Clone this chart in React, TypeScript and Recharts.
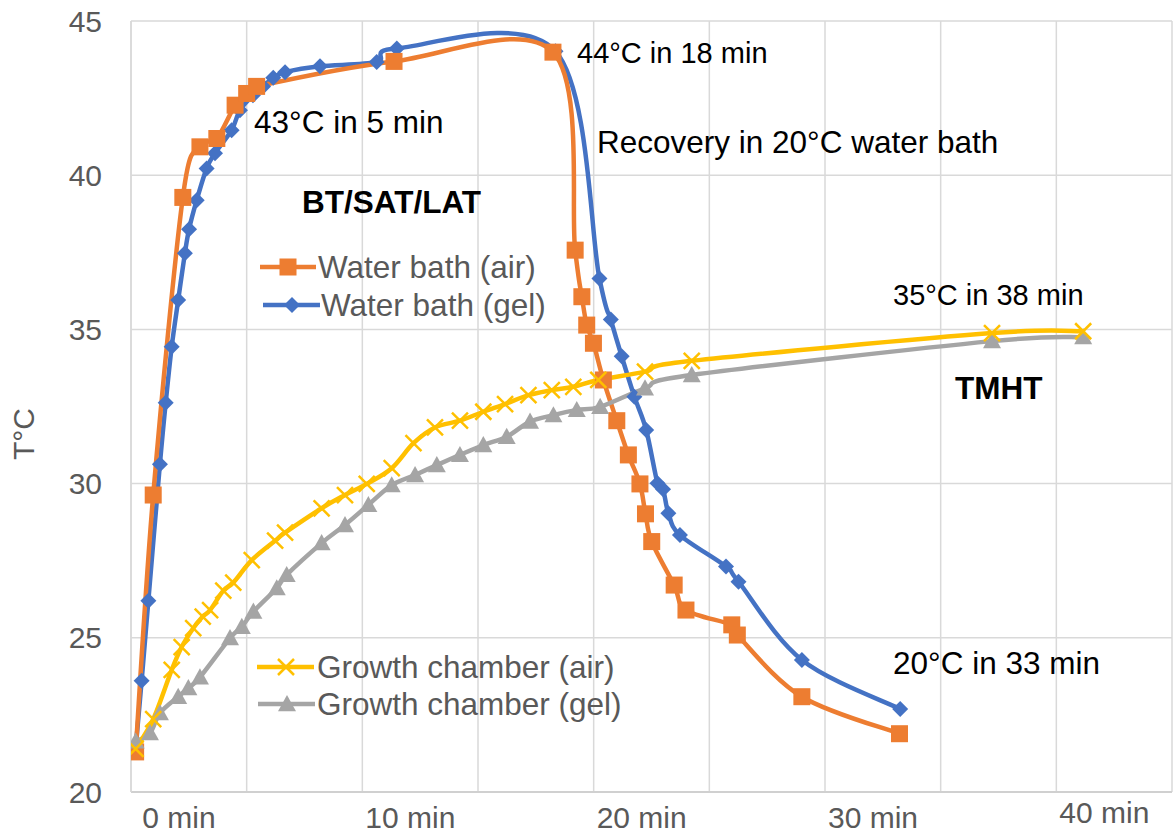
import { LineChart, Line, XAxis, YAxis, CartesianGrid } from 'recharts';

// minutes / °C
const waterAirTime = [0.2, 0.96, 2.24, 2.98, 3.71, 4.5, 5.0, 5.43, 11.37, 18.24, 19.2, 19.49, 19.7, 19.99, 20.42, 21.0, 21.5, 22.0, 22.24, 22.51, 23.48, 23.99, 25.97, 26.21, 29.0, 33.22];
const waterAirTemp = [21.3, 29.63, 39.28, 40.92, 41.19, 42.27, 42.65, 42.88, 43.69, 43.99, 37.57, 36.06, 35.14, 34.55, 33.36, 32.04, 30.93, 29.99, 29.02, 28.12, 26.71, 25.9, 25.42, 25.09, 23.09, 21.89];

const waterGelTime = [0.2, 0.46, 0.75, 1.25, 1.5, 1.76, 2.04, 2.33, 2.51, 2.84, 3.27, 3.63, 4.35, 4.71, 5.27, 5.71, 6.15, 6.66, 8.17, 10.62, 11.49, 18.35, 20.25, 20.74, 21.21, 21.76, 22.27, 22.76, 23.0, 23.23, 23.73, 25.72, 26.26, 29.0, 33.25];
const waterGelTemp = [21.4, 23.61, 26.2, 30.63, 32.62, 34.44, 35.95, 37.47, 38.25, 39.19, 40.22, 40.71, 41.46, 42.11, 42.59, 42.88, 43.16, 43.34, 43.53, 43.67, 44.11, 44.02, 36.65, 35.32, 34.13, 32.82, 31.74, 30.01, 29.82, 29.04, 28.33, 27.31, 26.82, 24.28, 22.69];

const chamberAirTime = [0.2, 0.96, 1.76, 2.19, 2.69, 3.1, 3.42, 3.99, 4.42, 5.22, 6.23, 6.66, 8.24, 9.25, 10.19, 11.27, 12.21, 13.14, 14.22, 15.23, 16.17, 17.18, 18.19, 19.12, 20.2, 22.22, 24.24, 37.22, 41.16];
const chamberAirTemp = [21.4, 22.36, 23.96, 24.7, 25.31, 25.69, 25.9, 26.53, 26.79, 27.52, 28.15, 28.41, 29.2, 29.63, 29.99, 30.5, 31.31, 31.82, 32.04, 32.33, 32.58, 32.87, 33.03, 33.14, 33.36, 33.63, 33.98, 34.88, 34.94];

const chamberGelTime = [0.2, 0.82, 1.25, 2.04, 2.48, 2.98, 4.28, 4.79, 5.29, 6.3, 6.73, 8.24, 9.25, 10.26, 11.27, 12.28, 13.22, 14.22, 15.23, 16.24, 17.25, 18.26, 19.27, 20.28, 22.22, 24.24, 37.22, 41.16];
const chamberGelTemp = [21.64, 21.91, 22.56, 23.09, 23.37, 23.72, 24.99, 25.36, 25.85, 26.61, 27.04, 28.07, 28.66, 29.31, 29.95, 30.28, 30.6, 30.93, 31.25, 31.52, 32.01, 32.22, 32.39, 32.49, 33.09, 33.52, 34.62, 34.75];

const xTicks = [0, 5, 10, 15, 20, 25, 30, 35, 40, 45];
const yTicks = [20, 25, 30, 35, 40, 45];

const toPoints = (t: number[], v: number[]) => t.map((x, i) => ({ t: x, v: v[i] }));

const FONT = '"Liberation Sans", Arial, sans-serif';
const ORANGE = '#ED7D31';
const BLUE = '#4472C4';
const YELLOW = '#FFC000';
const GRAY = '#A5A5A5';

// Excel-like smoothed line (Catmull-Rom through every point)
function excelCurve(context: any) {
  let pts: number[][] = [];
  return {
    areaStart() {},
    areaEnd() {},
    lineStart() {
      pts = [];
    },
    point(x: number, y: number) {
      pts.push([+x, +y]);
    },
    lineEnd() {
      if (!pts.length) return;
      context.moveTo(pts[0][0], pts[0][1]);
      for (let i = 0; i < pts.length - 1; i++) {
        const p0 = pts[i - 1] || pts[i];
        const p1 = pts[i];
        const p2 = pts[i + 1];
        const p3 = pts[i + 2] || p2;
        context.bezierCurveTo(
          p1[0] + (p2[0] - p0[0]) / 6,
          p1[1] + (p2[1] - p0[1]) / 6,
          p2[0] - (p3[0] - p1[0]) / 6,
          p2[1] - (p3[1] - p1[1]) / 6,
          p2[0],
          p2[1]
        );
      }
    },
  };
}

const Square = ({ cx, cy, size = 17 }: any) => (
  <rect x={cx - size / 2} y={cy - size / 2} width={size} height={size} fill={ORANGE} />
);
const Diamond = ({ cx, cy, r = 8 }: any) => (
  <path d={`M${cx},${cy - r}L${cx + r},${cy}L${cx},${cy + r}L${cx - r},${cy}Z`} fill={BLUE} />
);
const Cross = ({ cx, cy, r = 8 }: any) => (
  <path d={`M${cx - r},${cy - r}L${cx + r},${cy + r}M${cx - r},${cy + r}L${cx + r},${cy - r}`} stroke={YELLOW} strokeWidth={2.5} fill="none" />
);
const Triangle = ({ cx, cy, r = 9 }: any) => (
  <path d={`M${cx},${cy - r}L${cx + r},${cy + r * 0.8}L${cx - r},${cy + r * 0.8}Z`} fill={GRAY} />
);

const XTick = ({ x, y, payload }: any) => {
  const v = payload.value;
  if (v % 10 !== 0 || v > 40) return <g />;
  return (
    <text x={x + 48} y={y + (v === 40 ? 29 : 34)} textAnchor="middle" fill="#595959" fontSize={30} fontFamily={FONT}>
      {`${v} min`}
    </text>
  );
};

export default function App() {
  const legendText = { fill: '#595959', fontSize: 31.5, fontFamily: FONT };
  const small = { fill: '#000', fontSize: 29, fontFamily: FONT };
  const note = { fill: '#000', fontSize: 31.5, fontFamily: FONT };
  const bold = { fill: '#000', fontSize: 31.5, fontFamily: FONT, fontWeight: 700 };

  return (
    <div style={{ position: 'absolute', left: 0, top: 0, width: 1174, height: 835, background: '#fff' }}>
      <LineChart width={1174} height={835} margin={{ top: 21, right: 2, bottom: 1, left: 0 }}>
        <CartesianGrid stroke="#D9D9D9" strokeWidth={1.5} verticalValues={xTicks} horizontalValues={yTicks} />
        <XAxis
          type="number"
          dataKey="t"
          domain={[0, 45]}
          ticks={xTicks}
          interval={0}
          height={42}
          tickSize={0}
          tickLine={false}
          axisLine={{ stroke: '#D0D0D0', strokeWidth: 2 }}
          tick={<XTick />}
          allowDataOverflow
        />
        <YAxis
          type="number"
          dataKey="v"
          domain={[20, 45]}
          ticks={yTicks}
          interval={0}
          width={131}
          tickSize={0}
          tickMargin={29}
          tickLine={false}
          axisLine={{ stroke: '#D9D9D9', strokeWidth: 1.5 }}
          tick={{ fill: '#595959', fontSize: 30, fontFamily: FONT }}
          allowDataOverflow
        />
        <Line
          data={toPoints(waterGelTime, waterGelTemp)}
          dataKey="v"
          type={excelCurve as any}
          stroke={BLUE}
          strokeWidth={4.5}
          dot={(p: any) => <Diamond key={`b${p.index}`} cx={p.cx} cy={p.cy} />}
          activeDot={false}
          isAnimationActive={false}
        />
        <Line
          data={toPoints(waterAirTime, waterAirTemp)}
          dataKey="v"
          type={excelCurve as any}
          stroke={ORANGE}
          strokeWidth={4.5}
          dot={(p: any) => <Square key={`o${p.index}`} cx={p.cx} cy={p.cy} />}
          activeDot={false}
          isAnimationActive={false}
        />
        <Line
          data={toPoints(chamberGelTime, chamberGelTemp)}
          dataKey="v"
          type={excelCurve as any}
          stroke={GRAY}
          strokeWidth={4.5}
          dot={(p: any) => <Triangle key={`g${p.index}`} cx={p.cx} cy={p.cy} />}
          activeDot={false}
          isAnimationActive={false}
        />
        <Line
          data={toPoints(chamberAirTime, chamberAirTemp)}
          dataKey="v"
          type={excelCurve as any}
          stroke={YELLOW}
          strokeWidth={4.5}
          dot={(p: any) => <Cross key={`y${p.index}`} cx={p.cx} cy={p.cy} />}
          activeDot={false}
          isAnimationActive={false}
        />
      </LineChart>

      {/* axis title, annotations and the two legend boxes */}
      <svg width={1174} height={835} style={{ position: 'absolute', left: 0, top: 0, pointerEvents: 'none' }}>
        <text x={34} y={434} transform="rotate(-90 34 434)" textAnchor="middle" fill="#595959" fontSize={30} fontFamily={FONT}>
          T°C
        </text>

        <text x={254} y={133} {...note}>43°C in 5 min</text>
        <text x={577} y={63} {...small}>44°C in 18 min</text>
        <text x={597} y={153} {...note}>Recovery in 20°C water bath</text>
        <text x={302} y={213} {...bold}>BT/SAT/LAT</text>
        <text x={893} y={305} {...small}>35°C in 38 min</text>
        <text x={955} y={399} {...bold}>TMHT</text>
        <text x={893} y={674} {...note}>20°C in 33 min</text>

        <line x1={260} x2={316} y1={267} y2={267} stroke={ORANGE} strokeWidth={4.5} />
        <Square cx={288} cy={267} />
        <text x={318} y={278} {...legendText}>Water bath (air)</text>
        <line x1={263} x2={320} y1={305} y2={305} stroke={BLUE} strokeWidth={4.5} />
        <Diamond cx={292} cy={305} />
        <text x={321} y={316} {...legendText}>Water bath (gel)</text>

        <line x1={257} x2={314} y1={667} y2={667} stroke={YELLOW} strokeWidth={4.5} />
        <Cross cx={286} cy={667} />
        <text x={317} y={678} {...legendText}>Growth chamber (air)</text>
        <line x1={258} x2={315} y1={704} y2={704} stroke={GRAY} strokeWidth={4.5} />
        <Triangle cx={287} cy={704} />
        <text x={317} y={715} {...legendText}>Growth chamber (gel)</text>
      </svg>
    </div>
  );
}
